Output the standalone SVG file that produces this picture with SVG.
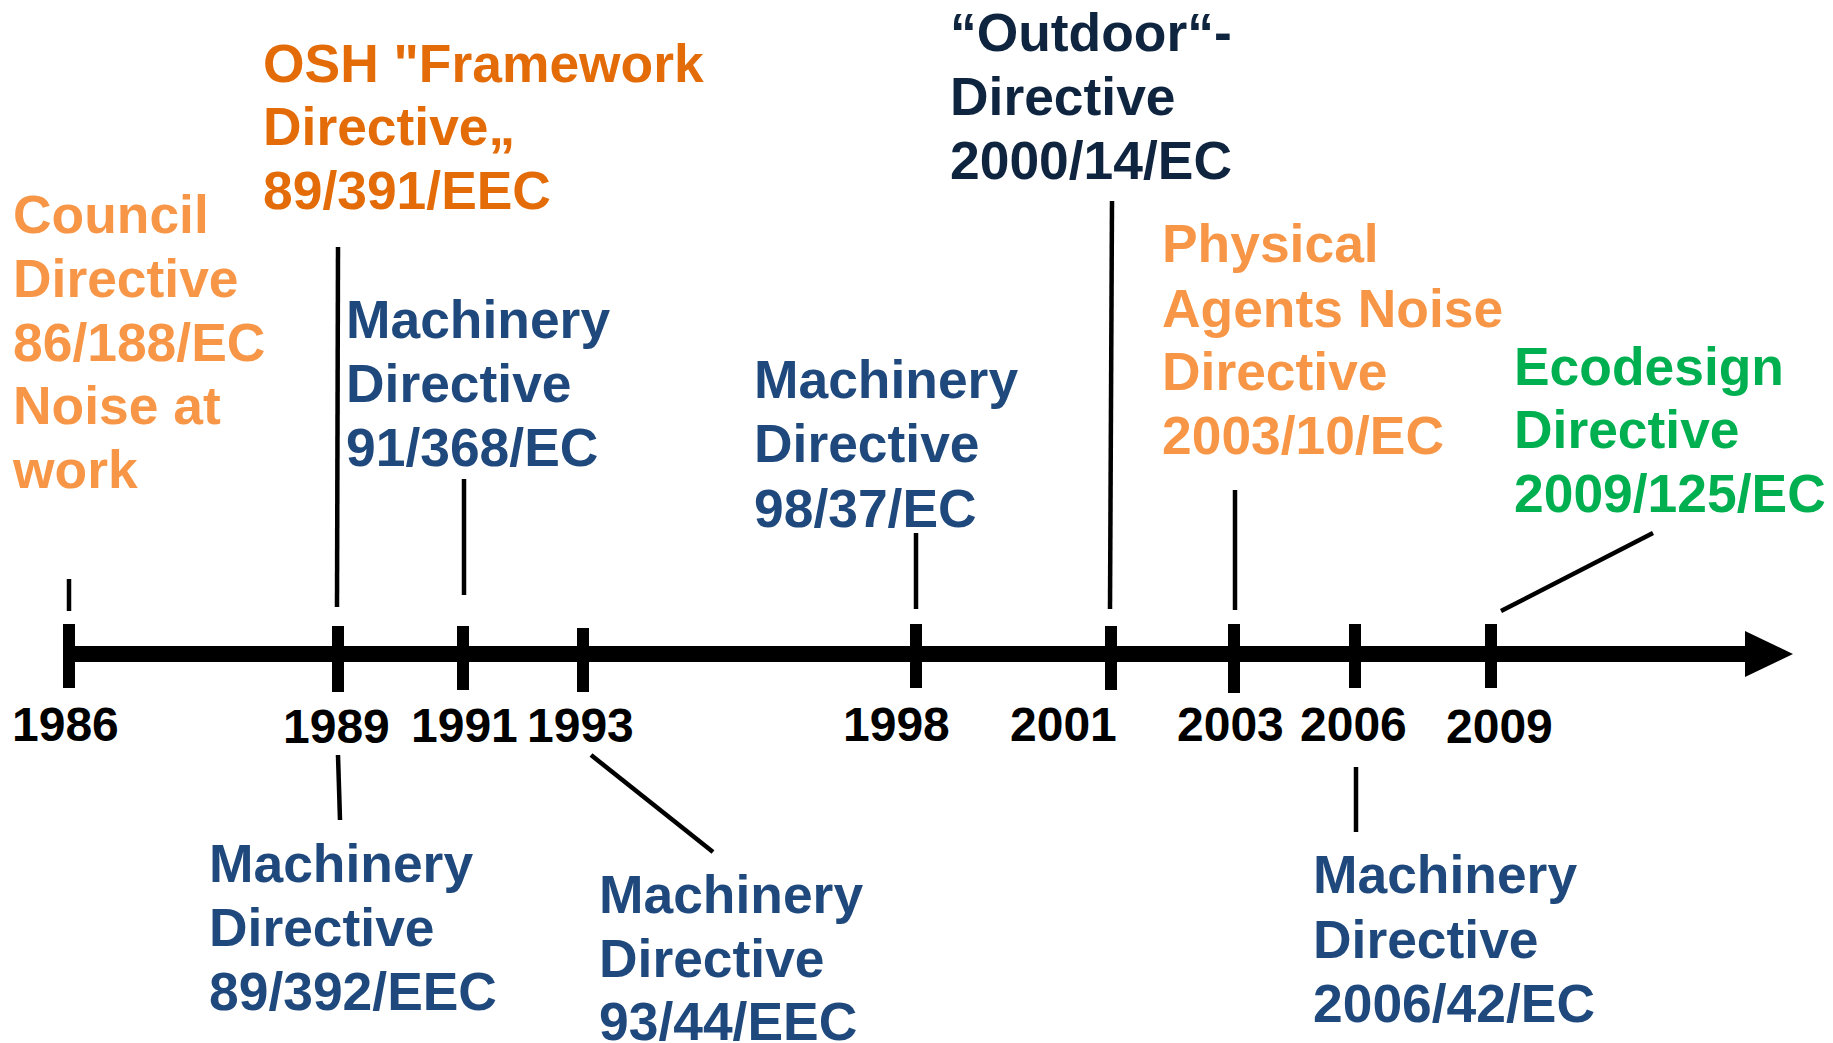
<svg xmlns="http://www.w3.org/2000/svg" width="1833" height="1043" viewBox="0 0 1833 1043">
  <style>
    text { font-family: "Liberation Sans", Arial, sans-serif; font-weight: bold; }
    .lbl { font-size: 53.4px; }
    .yr { font-size: 48px; fill: #000000; }
    .orange { fill: #F79646; }
    .dorange { fill: #E36C09; }
    .blue { fill: #1F497D; }
    .navy { fill: #0F243E; }
    .green { fill: #00B050; }
    .lead { stroke: #000000; stroke-width: 4.5; fill: none; }
    .tick { stroke: #000000; stroke-width: 12; }
  </style>

  <!-- time axis with year ticks -->
  <g id="axis">
    <line x1="63" y1="654" x2="1750" y2="654" stroke="#000000" stroke-width="16"/>
    <polygon points="1745,631 1793,654 1745,677" fill="#000000"/>
    <line class="tick" x1="69" y1="624" x2="69" y2="688"/>
    <line class="tick" x1="338" y1="626" x2="338" y2="692"/>
    <line class="tick" x1="463" y1="626" x2="463" y2="690"/>
    <line class="tick" x1="583" y1="628" x2="583" y2="692"/>
    <line class="tick" x1="916" y1="624" x2="916" y2="688"/>
    <line class="tick" x1="1111" y1="626" x2="1111" y2="690"/>
    <line class="tick" x1="1234" y1="624" x2="1234" y2="693"/>
    <line class="tick" x1="1355" y1="624" x2="1355" y2="688"/>
    <line class="tick" x1="1491" y1="624" x2="1491" y2="688"/>
  </g>

  <!-- year labels -->
  <g id="years">
    <text class="yr" x="12" y="741">1986</text>
    <text class="yr" x="283" y="743">1989</text>
    <text class="yr" x="411" y="742">1991</text>
    <text class="yr" x="527" y="742">1993</text>
    <text class="yr" x="843" y="741">1998</text>
    <text class="yr" x="1010" y="741">2001</text>
    <text class="yr" x="1177" y="741">2003</text>
    <text class="yr" x="1300" y="741">2006</text>
    <text class="yr" x="1446" y="743">2009</text>
  </g>

  <!-- leader lines from labels to the axis -->
  <g id="connectors">
    <line class="lead" x1="69" y1="579" x2="69" y2="611"/>
    <line class="lead" x1="338" y1="247" x2="337" y2="607"/>
    <line class="lead" x1="464" y1="479" x2="464" y2="595"/>
    <line class="lead" x1="916" y1="533" x2="916" y2="609"/>
    <line class="lead" x1="1112" y1="201" x2="1110" y2="609"/>
    <line class="lead" x1="1235" y1="490" x2="1235" y2="610"/>
    <line class="lead" x1="1501" y1="611" x2="1653" y2="533"/>
    <line class="lead" x1="338" y1="755" x2="340" y2="820"/>
    <line class="lead" x1="591" y1="755" x2="713" y2="852"/>
    <line class="lead" x1="1356" y1="767" x2="1356" y2="832"/>
  </g>

  <g id="council-86-188">
    <text class="lbl orange" x="13" y="233">Council</text>
    <text class="lbl orange" x="13" y="297">Directive</text>
    <text class="lbl orange" x="13" y="361">86/188/EC</text>
    <text class="lbl orange" x="13" y="424">Noise at</text>
    <text class="lbl orange" x="13" y="488">work</text>
  </g>

  <g id="osh-89-391">
    <text class="lbl dorange" x="263" y="82">OSH "Framework</text>
    <text class="lbl dorange" x="263" y="145">Directive„</text>
    <text class="lbl dorange" x="263" y="209">89/391/EEC</text>
  </g>

  <g id="machinery-91-368">
    <text class="lbl blue" x="346" y="338">Machinery</text>
    <text class="lbl blue" x="346" y="402">Directive</text>
    <text class="lbl blue" x="346" y="466">91/368/EC</text>
  </g>

  <g id="machinery-98-37">
    <text class="lbl blue" x="754" y="398">Machinery</text>
    <text class="lbl blue" x="754" y="462">Directive</text>
    <text class="lbl blue" x="754" y="527">98/37/EC</text>
  </g>

  <g id="outdoor-2000-14">
    <text class="lbl navy" x="950" y="51">“Outdoor“-</text>
    <text class="lbl navy" x="950" y="115">Directive</text>
    <text class="lbl navy" x="950" y="179">2000/14/EC</text>
  </g>

  <g id="noise-2003-10">
    <text class="lbl orange" x="1162" y="262">Physical</text>
    <text class="lbl orange" x="1162" y="327">Agents Noise</text>
    <text class="lbl orange" x="1162" y="390">Directive</text>
    <text class="lbl orange" x="1162" y="454">2003/10/EC</text>
  </g>

  <g id="ecodesign-2009-125">
    <text class="lbl green" x="1514" y="385">Ecodesign</text>
    <text class="lbl green" x="1514" y="448">Directive</text>
    <text class="lbl green" x="1514" y="512">2009/125/EC</text>
  </g>

  <g id="machinery-89-392">
    <text class="lbl blue" x="209" y="882">Machinery</text>
    <text class="lbl blue" x="209" y="946">Directive</text>
    <text class="lbl blue" x="209" y="1010">89/392/EEC</text>
  </g>

  <g id="machinery-93-44">
    <text class="lbl blue" x="599" y="913">Machinery</text>
    <text class="lbl blue" x="599" y="977">Directive</text>
    <text class="lbl blue" x="599" y="1040">93/44/EEC</text>
  </g>

  <g id="machinery-2006-42">
    <text class="lbl blue" x="1313" y="893">Machinery</text>
    <text class="lbl blue" x="1313" y="958">Directive</text>
    <text class="lbl blue" x="1313" y="1022">2006/42/EC</text>
  </g>
</svg>
